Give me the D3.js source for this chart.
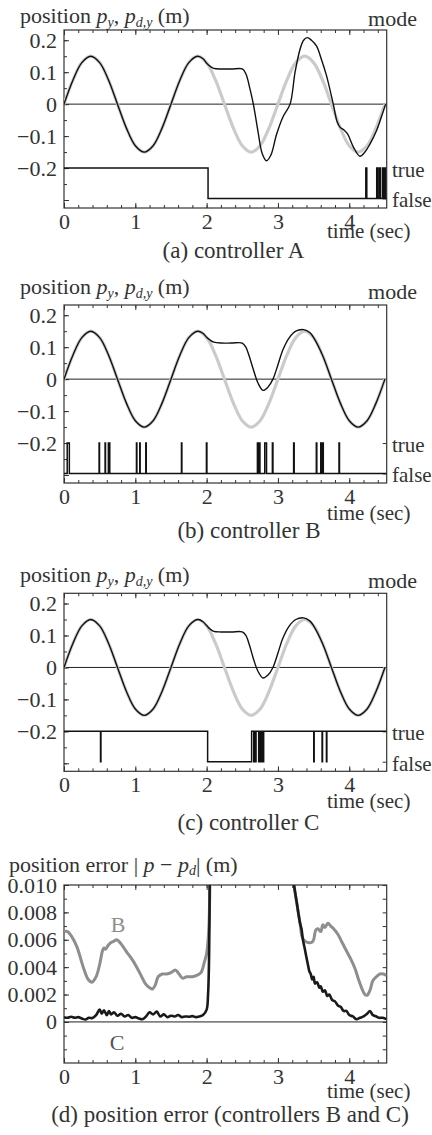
<!DOCTYPE html>
<html>
<head>
<meta charset="utf-8">
<script src="https://cdn.jsdelivr.net/npm/d3@7"></script>
<style>
body { margin: 0; background: #fff; }
text { font-family: "Liberation Serif", "Times New Roman", serif; fill: #333; }
</style>
</head>
<body>
<svg id="chart" width="432" height="1135"></svg>
<script>
// desired trajectory p_d,y (gray), read every 0.125 s
var pdY = [
  [0,0],[0.125,0.075],[0.25,0.13],[0.375,0.15],[0.5,0.13],[0.625,0.075],[0.75,0],
  [0.875,-0.075],[1,-0.13],[1.125,-0.15],[1.25,-0.13],[1.375,-0.075],[1.5,0],
  [1.625,0.075],[1.75,0.13],[1.875,0.15],[2,0.13],[2.125,0.075],[2.25,0],
  [2.375,-0.075],[2.5,-0.13],[2.625,-0.15],[2.75,-0.13],[2.875,-0.075],[3,0],
  [3.125,0.075],[3.25,0.13],[3.375,0.15],[3.5,0.13],[3.625,0.075],[3.75,0],
  [3.875,-0.075],[4,-0.13],[4.125,-0.15],[4.25,-0.13],[4.375,-0.075],[4.5,0]
];
// actual p_y, identical to p_d,y up to the second peak
var pyStart = pdY.filter(function(d){ return d[0] <= 1.875; });
var pyA = pyStart.concat([
  [1.95,0.142],[2.0,0.128],[2.05,0.118],[2.1,0.112],[2.2,0.11],[2.35,0.11],[2.5,0.11],
  [2.55,0.095],[2.6,0.055],[2.655,0],[2.72,-0.085],[2.78,-0.155],[2.84,-0.177],[2.9,-0.16],
  [2.98,-0.095],[3.07,-0.04],[3.17,0],[3.24,0.1],[3.31,0.172],[3.36,0.2],[3.41,0.208],
  [3.47,0.2],[3.54,0.182],[3.61,0.14],[3.68,0.09],[3.776,0],[3.83,-0.055],[3.87,-0.072],
  [3.93,-0.082],[3.98,-0.095],[4.06,-0.135],[4.15,-0.163],[4.22,-0.15],[4.29,-0.125],
  [4.38,-0.084],[4.45,-0.04],[4.51,0]
]);
var pyB = pyStart.concat([
  [1.95,0.143],[2.0,0.131],[2.05,0.122],[2.1,0.116],[2.2,0.113],[2.35,0.113],[2.5,0.113],
  [2.55,0.1],[2.6,0.07],[2.655,0.03],[2.72,-0.012],[2.79,-0.035],[2.86,-0.025],[2.93,0],
  [3.0,0.045],[3.07,0.092],[3.16,0.13],[3.25,0.15],[3.36,0.155],[3.45,0.145],[3.5,0.13]
]).concat(pdY.filter(function(d){ return d[0] >= 3.625; }));
var pyC = pyStart.concat([
  [1.95,0.143],[2.0,0.131],[2.05,0.12],[2.1,0.113],[2.2,0.111],[2.35,0.111],[2.5,0.111],
  [2.55,0.1],[2.6,0.07],[2.655,0.028],[2.72,-0.012],[2.79,-0.033],[2.86,-0.024],[2.93,0],
  [3.0,0.045],[3.07,0.092],[3.16,0.13],[3.25,0.15],[3.36,0.155],[3.45,0.145],[3.5,0.13]
]).concat(pdY.filter(function(d){ return d[0] >= 3.625; }));

// mode switching: intervals where mode is true (A, B) / false (C)
var modeATrue = [[0,2.02],[4.232,4.246],[4.385,4.398],[4.42,4.44],[4.47,4.485],[4.5,4.51]];
var modeBTrue = [[0.045,0.075],[0.492,0.498],[0.576,0.582],[0.622,0.642],[1.016,1.022],
  [1.062,1.068],[1.147,1.153],[1.647,1.653],[1.997,2.004],[2.712,2.72],[2.738,2.748],
  [2.815,2.84],[2.922,2.93],[3.22,3.228],[3.538,3.545],[3.6,3.606],[3.622,3.636],[3.856,3.863]];
var modeCFalse = [[0.512,0.518],[2.014,2.631],[2.661,2.667],[2.687,2.693],[2.73,2.738],
  [2.745,2.752],[2.76,2.768],[2.775,2.782],[2.79,2.8],[3.502,3.508],[3.619,3.625],[3.68,3.686]];

// position error |p - p_d|
var errB1 = [[0,0.0066],[0.05,0.0066],[0.1,0.0063],[0.18,0.0055],[0.27,0.004],[0.34,0.0031],
  [0.39,0.0029],[0.45,0.0033],[0.5,0.0042],[0.54,0.0052],[0.56,0.0054],[0.58,0.0053],
  [0.62,0.0056],[0.66,0.0058],[0.7,0.0059],[0.74,0.006],[0.8,0.0057],[0.88,0.0051],
  [0.95,0.0046],[1.02,0.004],[1.08,0.0034],[1.14,0.0028],[1.2,0.0025],[1.24,0.0024],
  [1.28,0.0027],[1.32,0.0033],[1.38,0.0035],[1.44,0.0035],[1.5,0.0036],[1.56,0.0038],
  [1.6,0.0036],[1.66,0.0032],[1.72,0.0033],[1.8,0.0033],[1.86,0.0034],[1.92,0.0036],
  [1.97,0.0044],[2.0,0.005],[2.03,0.0068],[2.05,0.012]];
var errB2 = [[3.2,0.0115],[3.23,0.0098],[3.27,0.0085],[3.31,0.0072],[3.34,0.0062],[3.38,0.0059],
  [3.42,0.0058],[3.47,0.0058],[3.5,0.006],[3.53,0.0067],[3.56,0.0068],[3.6,0.0066],
  [3.63,0.0071],[3.66,0.0069],[3.7,0.0072],[3.74,0.007],[3.78,0.0068],[3.84,0.0064],
  [3.9,0.0058],[3.96,0.0052],[4.02,0.0046],[4.08,0.0039],[4.13,0.0031],[4.18,0.0024],
  [4.22,0.002],[4.25,0.00195],[4.29,0.0023],[4.33,0.003],[4.38,0.0033],[4.43,0.0035],
  [4.48,0.0035],[4.52,0.0034]];
var errC1 = [[0,0.00035],[0.05,0.0003],[0.1,0.00038],[0.15,0.0003],[0.2,0.00035],[0.25,0.00025],
  [0.3,0.00018],[0.35,0.0003],[0.4,0.00028],[0.45,0.0005],[0.5,0.0009],[0.53,0.0006],
  [0.56,0.00085],[0.6,0.0005],[0.63,0.0008],[0.66,0.00055],[0.7,0.0007],[0.75,0.00045],
  [0.8,0.0006],[0.85,0.0004],[0.9,0.0005],[0.95,0.0003],[1.0,0.00035],[1.05,0.00025],
  [1.1,0.0002],[1.15,0.0004],[1.2,0.0007],[1.25,0.00055],[1.3,0.00075],[1.35,0.0004],
  [1.4,0.00055],[1.45,0.00035],[1.5,0.00045],[1.55,0.0004],[1.6,0.0005],[1.65,0.00035],
  [1.7,0.0004],[1.75,0.00038],[1.8,0.00042],[1.85,0.00035],[1.9,0.0004],[1.95,0.0005],
  [2.0,0.0009],[2.02,0.002],[2.035,0.005],[2.045,0.012]];
var errC2 = [[3.21,0.0105],[3.24,0.0095],[3.27,0.0085],[3.29,0.0078],[3.31,0.0072],[3.33,0.0068],
  [3.35,0.006],[3.37,0.0055],[3.4,0.0047],[3.42,0.0042],[3.44,0.0037],[3.46,0.0035],
  [3.48,0.0031],[3.5,0.0033],[3.52,0.0028],[3.55,0.0029],[3.58,0.0025],[3.6,0.0026],
  [3.63,0.0022],[3.66,0.0023],[3.69,0.0019],[3.72,0.002],[3.76,0.0016],[3.8,0.0015],
  [3.84,0.0012],[3.88,0.0011],[3.92,0.0008],[3.96,0.0008],[4.0,0.0005],[4.05,0.0004],
  [4.1,0.0002],[4.15,0.0003],[4.2,0.0004],[4.25,0.0006],[4.29,0.0008],[4.33,0.0005],
  [4.38,0.0004],[4.42,0.0003],[4.47,0.0003],[4.52,0.0002]];

var xTicks = [0,1,2,3,4];
var posTicks = [0.2,0.1,0,-0.1,-0.2];
var errTicks = [0.010,0.008,0.006,0.004,0.002,0];
var captions = ['(a) controller A','(b) controller B','(c) controller C','(d) position error (controllers B and C)'];

var svg = d3.select('#chart');
var left = 64, right = 386.7, ph = 178;
var x = d3.scaleLinear().domain([0,4.525]).range([left,right]);
var TRUE = -0.2, FALSE = -0.295;

function stepPoints(intervals, inVal, outVal){
  var pts = [];
  if (intervals[0][0] > 0) pts.push([0,outVal]);
  intervals.forEach(function(iv){
    pts.push([iv[0],inVal]);
    pts.push([iv[1],outVal]);
  });
  pts.push([4.525,outVal]);
  return pts;
}

function frame(g, y, top, yMinor, yMajor, yFmt, rightTicks, idx){
  var bottom = top + ph;
  g.append('clipPath').attr('id','clip'+idx)
    .append('rect').attr('x',left).attr('y',top).attr('width',right-left).attr('height',ph);
  // minor / major ticks, all pointing inward
  g.append('g').attr('transform','translate(0,'+bottom+')')
    .call(d3.axisBottom(x).tickValues(d3.range(0,4.51,0.2)).tickSize(-3).tickFormat(''));
  g.append('g').attr('transform','translate(0,'+bottom+')')
    .call(d3.axisBottom(x).tickValues(xTicks).tickSize(-5).tickPadding(5).tickFormat(d3.format('d')));
  g.append('g').attr('transform','translate(0,'+top+')')
    .call(d3.axisTop(x).tickValues(d3.range(0,4.51,0.2)).tickSize(-3).tickFormat(''));
  g.append('g').attr('transform','translate(0,'+top+')')
    .call(d3.axisTop(x).tickValues(xTicks).tickSize(-5).tickFormat(''));
  g.append('g').attr('transform','translate('+left+',0)')
    .call(d3.axisLeft(y).tickValues(yMinor).tickSize(-3).tickFormat(''));
  g.append('g').attr('transform','translate('+left+',0)')
    .call(d3.axisLeft(y).tickValues(yMajor).tickSize(-5).tickPadding(7).tickFormat(yFmt));
  g.append('g').attr('transform','translate('+right+',0)')
    .call(d3.axisRight(y).tickValues(rightTicks).tickSize(-4).tickFormat(''));
  g.selectAll('.domain').remove();
  g.selectAll('.tick line').attr('stroke','#333');
  g.selectAll('.tick text').style('font-size','22px').attr('fill','#333');
  g.append('rect').attr('x',left).attr('y',top).attr('width',right-left).attr('height',ph)
    .attr('fill','none').attr('stroke','#333').attr('stroke-width',1.2);
  g.append('line').attr('x1',left).attr('x2',right).attr('y1',y(0)).attr('y2',y(0))
    .attr('stroke','#222').attr('stroke-width',1);
}

function timeLabel(g, yb){
  g.append('text').attr('x',327).attr('y',yb).style('font-size','21px').text('time (sec)');
}
function caption(g, cx, yb, s){
  g.append('text').attr('x',cx).attr('y',yb).attr('text-anchor','middle').style('font-size','23px').text(s);
}
function posLabel(g, yb){
  var t = g.append('text').attr('x',20).attr('y',yb).style('font-size','22px');
  t.append('tspan').text('position ');
  t.append('tspan').style('font-style','italic').text('p');
  t.append('tspan').style('font-style','italic').style('font-size','14px').attr('dy',4).text('y');
  t.append('tspan').attr('dy',-4).text(', ');
  t.append('tspan').style('font-style','italic').text('p');
  t.append('tspan').style('font-style','italic').style('font-size','14px').attr('dy',4).text('d,y');
  t.append('tspan').attr('dy',-4).text(' (m)');
}

var lineGen = d3.line().curve(d3.curveCatmullRom.alpha(0.5));
var stepGen = d3.line().curve(d3.curveStepAfter);

var panels = [
  {top:30,    py:pyA, mode:stepPoints(modeATrue,TRUE,FALSE),   ylab:23,    mode_y:26,    time:237.5, cap:[233.5,257.5]},
  {top:305,   py:pyB, mode:stepPoints(modeBTrue,TRUE,FALSE),   ylab:293.5, mode_y:298.5, time:520,   cap:[249,538]},
  {top:593.3, py:pyC, mode:stepPoints(modeCFalse,FALSE,TRUE),  ylab:581.5, mode_y:587.5, time:808,   cap:[248.5,830]}
];

panels.forEach(function(p, i){
  var g = svg.append('g');
  var y = d3.scaleLinear().domain([-0.325,0.232]).range([p.top+ph,p.top]);
  frame(g, y, p.top, d3.range(-0.3,0.201,0.05).map(function(v){return +v.toFixed(2);}),
    posTicks.concat([-0.3]), function(v){ return v==-0.3 ? '' : (v<0 ? '\u2212'+(-v) : ''+v); },
    [TRUE,FALSE], i);
  lineGen.x(function(d){return x(d[0]);}).y(function(d){return y(d[1]);});
  stepGen.x(function(d){return x(d[0]);}).y(function(d){return y(d[1]);});
  var data = g.append('g').attr('clip-path','url(#clip'+i+')');
  data.append('path').attr('d',lineGen(pdY)).attr('fill','none')
    .attr('stroke','#cbcbcb').attr('stroke-width',3.2);
  data.append('path').attr('d',lineGen(p.py)).attr('fill','none')
    .attr('stroke','#111').attr('stroke-width',1.4);
  data.append('path').attr('d',stepGen(p.mode)).attr('fill','none')
    .attr('stroke','#111').attr('stroke-width',1.5);
  posLabel(g, p.ylab);
  g.append('text').attr('x',417).attr('y',p.mode_y).attr('text-anchor','end').style('font-size','22px').text('mode');
  g.append('text').attr('x',392).attr('y',y(TRUE)+9).style('font-size','21px').text('true');
  g.append('text').attr('x',392).attr('y',y(FALSE)+9).style('font-size','21px').text('false');
  timeLabel(g, p.time);
  caption(g, p.cap[0], p.cap[1], captions[i]);
});

// panel (d): position error
var gd = svg.append('g');
var topD = 885;
var yd = d3.scaleLinear().domain([-0.003,0.010]).range([topD+ph,topD]);
frame(gd, yd, topD, d3.range(-2,11,1).map(function(v){return v/1000;}), errTicks,
  function(v){ return v==0 ? '0' : d3.format('.3f')(v); },
  d3.range(-2,11,1).map(function(v){return v/1000;}), 3);
lineGen.x(function(d){return x(d[0]);}).y(function(d){return yd(d[1]);});
var dd = gd.append('g').attr('clip-path','url(#clip3)');
[errB1, errB2].forEach(function(s){
  dd.append('path').attr('d',lineGen(s)).attr('fill','none')
    .attr('stroke','#8e8e8e').attr('stroke-width',3);
});
[errC1, errC2].forEach(function(s){
  dd.append('path').attr('d',lineGen(s)).attr('fill','none')
    .attr('stroke','#1a1a1a').attr('stroke-width',2.6);
});
gd.append('text').attr('x',118).attr('y',932).attr('text-anchor','middle')
  .style('font-size','22px').attr('fill','#8e8e8e').style('fill','#8e8e8e').text('B');
gd.append('text').attr('x',117).attr('y',1050).attr('text-anchor','middle')
  .style('font-size','22px').style('fill','#555').text('C');
var el = gd.append('text').attr('x',9).attr('y',871.5).style('font-size','22px');
el.append('tspan').text('position error | ');
el.append('tspan').style('font-style','italic').text('p');
el.append('tspan').text(' \u2212 ');
el.append('tspan').style('font-style','italic').text('p');
el.append('tspan').style('font-style','italic').style('font-size','14px').attr('dy',3).text('d');
el.append('tspan').attr('dy',-3).text('| (m)');
timeLabel(gd, 1098);
caption(gd, 230, 1122, captions[3]);
</script>
</body>
</html>
